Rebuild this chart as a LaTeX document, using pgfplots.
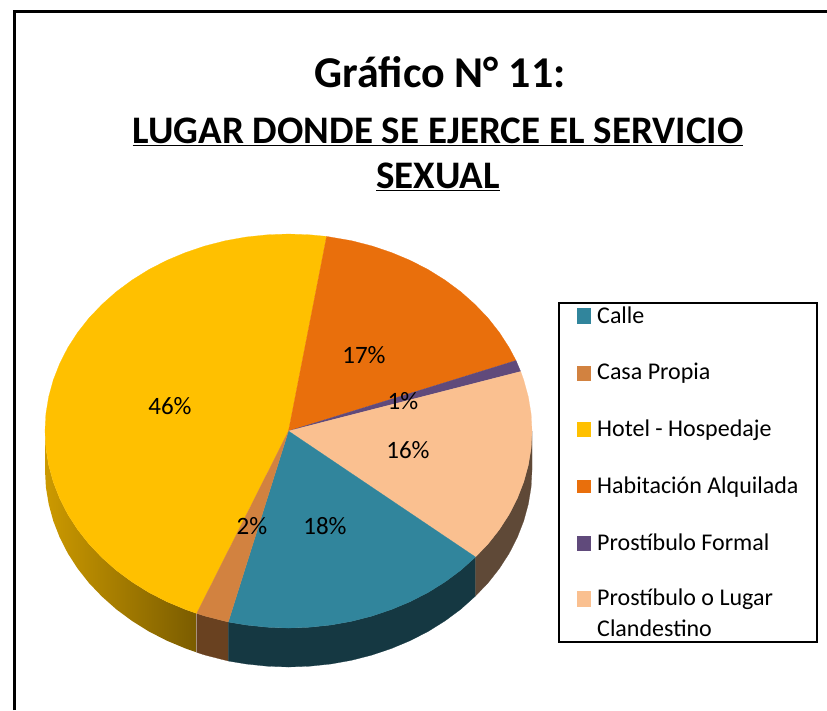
\documentclass[border=0pt]{standalone}
\usepackage{pgfplots}
\pgfplotsset{compat=1.18}
\usepackage{fontspec}
\setmainfont{Carlito}
\definecolor{calle}{HTML}{31859C}
\definecolor{casa}{HTML}{D28240}
\definecolor{hotel}{HTML}{FFC000}
\definecolor{habit}{HTML}{E96F0C}
\definecolor{formal}{HTML}{604A7B}
\definecolor{peach}{HTML}{FAC090}
\newcommand{\fs}[1]{\fontsize{#1}{#1}\selectfont}
\begin{document}
\begin{tikzpicture}
\begin{axis}[
  width=827pt,height=710pt,scale only axis,hide axis,
  xmin=0,xmax=827,ymin=0,ymax=710,y dir=reverse,
  no markers,clip=false,
  every axis plot/.append style={line width=0.2pt}
]
\path[use as bounding box] (axis cs:0,0) rectangle (axis cs:827,710);
% frame
\addplot[black,line width=3pt] coordinates {(14,710) (14,11) (827,11)};
% sides
\addplot[draw=none,left color=hotel!80!black,right color=hotel!48!black] coordinates {
(45,431)(45.9,448.2)(48.7,465.2)(53.3,482)(59.7,498.4)(67.8,514.3)(77.6,529.5)(89,544)(102,557.6)(116.3,570.3)(132,581.9)(148.8,592.4)(166.7,601.6)(185.6,609.5)(196.7,613.4)
(196.7,652.4)(185.6,648.5)(166.7,640.6)(148.8,631.4)(132,620.9)(116.3,609.3)(102,596.6)(89,583)(77.6,568.5)(67.8,553.3)(59.7,537.4)(53.3,521)(48.7,504.2)(45.9,487.2)(45,470)} --cycle;
\addplot[fill=casa!50!black,draw=casa!50!black] coordinates {
(196.7,613.4)(205.2,616.1)(225.5,621.3)(228.3,622)(228.3,661)(225.5,660.3)(205.2,655.1)(196.7,652.4)} --cycle;
\addplot[fill=calle!42!black,draw=calle!42!black] coordinates {
(228.3,622)(246.2,625)(267.3,627.2)(288.5,628)(309.7,627.2)(330.8,625)(351.5,621.3)(371.8,616.1)(391.4,609.5)(410.3,601.6)(428.2,592.4)(445,581.9)(460.7,570.3)(475.5,557)
(475.5,596)(460.7,609.3)(445,620.9)(428.2,631.4)(410.3,640.6)(391.4,648.5)(371.8,655.1)(351.5,660.3)(330.8,664)(309.7,666.2)(288.5,667)(267.3,666.2)(246.2,664)(228.3,661)} --cycle;
\addplot[fill=peach!38!black,draw=peach!38!black] coordinates {
(475.5,557)(488,544)(499.4,529.5)(509.2,514.3)(517.3,498.4)(523.7,482)(528.3,465.2)(531.1,448.2)(532,431)
(532,470)(531.1,487.2)(528.3,504.2)(523.7,521)(517.3,537.4)(509.2,553.3)(499.4,568.5)(488,583)(475.5,596)} --cycle;
% top faces
\addplot[fill=hotel,draw=hotel] coordinates {
(288.5,431)(326.6,236.4)(309.7,234.8)(288.5,234)(267.3,234.8)(246.2,237)(225.5,240.7)(205.2,245.9)(185.6,252.5)(166.7,260.4)(148.8,269.6)(132,280.1)(116.3,291.7)(102,304.4)(89,318)(77.6,332.5)(67.8,347.7)(59.7,363.6)(53.3,380)(48.7,396.8)(45.9,413.8)(45,431)(45.9,448.2)(48.7,465.2)(53.3,482)(59.7,498.4)(67.8,514.3)(77.6,529.5)(89,544)(102,557.6)(116.3,570.3)(132,581.9)(148.8,592.4)(166.7,601.6)(185.6,609.5)(196.7,613.4)} --cycle;
\addplot[fill=habit,draw=habit] coordinates {
(288.5,431)(516,360.5)(509.2,347.7)(499.4,332.5)(488,318)(475,304.4)(460.7,291.7)(445,280.1)(428.2,269.6)(410.3,260.4)(391.4,252.5)(371.8,245.9)(351.5,240.7)(326.6,236.4)} --cycle;
\addplot[fill=formal,draw=formal] coordinates {
(288.5,431)(520.7,371.5)(516,360.5)} --cycle;
\addplot[fill=peach,draw=peach] coordinates {
(288.5,431)(475.5,557)(488,544)(499.4,529.5)(509.2,514.3)(517.3,498.4)(523.7,482)(528.3,465.2)(531.1,448.2)(532,431)(531.1,413.8)(528.3,396.8)(523.7,380)(520.7,371.5)} --cycle;
\addplot[fill=calle,draw=calle] coordinates {
(288.5,431)(228.3,622)(246.2,625)(267.3,627.2)(288.5,628)(309.7,627.2)(330.8,625)(351.5,621.3)(371.8,616.1)(391.4,609.5)(410.3,601.6)(428.2,592.4)(445,581.9)(460.7,570.3)(475.5,557)} --cycle;
\addplot[fill=casa,draw=casa] coordinates {
(288.5,431)(196.7,613.4)(205.2,616.1)(225.5,621.3)(228.3,622)} --cycle;
% legend box
\addplot[fill=white,draw=black,line width=1.6pt] coordinates {(559,303)(817,303)(817,642)(559,642)} --cycle;
\addplot[fill=calle,draw=calle] coordinates {(577,308)(590,308)(590,323)(577,323)} --cycle;
\addplot[fill=casa,draw=casa] coordinates {(577,366)(590,366)(590,380)(577,380)} --cycle;
\addplot[fill=hotel,draw=hotel] coordinates {(577,422)(590,422)(590,436)(577,436)} --cycle;
\addplot[fill=habit,draw=habit] coordinates {(577,480)(590,480)(590,492)(577,492)} --cycle;
\addplot[fill=formal,draw=formal] coordinates {(577,536)(590,536)(590,550)(577,550)} --cycle;
\addplot[fill=peach,draw=peach] coordinates {(577,591)(590,591)(590,606)(577,606)} --cycle;
% legend text
\begin{scope}[every node/.style={anchor=base west,inner sep=0pt,font=\fs{24}}]
\node at (axis cs:597,323) {Calle};
\node at (axis cs:597,379.5) {Casa Propia};
\node at (axis cs:597,436.5) {Hotel - Hospedaje};
\node at (axis cs:597,493) {Habitación Alquilada};
\node at (axis cs:597,550) {Prostíbulo Formal};
\node at (axis cs:597,605.5) {Prostíbulo o Lugar};
\node at (axis cs:597,636.5) {Clandestino};
\end{scope}
% percentages
\begin{scope}[every node/.style={inner sep=0pt,font=\fs{25}}]
\node at (axis cs:170,406) {46\%};
\node at (axis cs:364,355) {17\%};
\node at (axis cs:403,401) {1\%};
\node at (axis cs:408,450) {16\%};
\node at (axis cs:325,526) {18\%};
\node at (axis cs:252,526) {2\%};
\end{scope}
% titles
\node[inner sep=0pt,font=\bfseries\fs{44}] at (axis cs:440,72) {Gráfico N° 11:};
\node[inner sep=0pt,font=\bfseries\fs{39}] at (axis cs:438,132) {\underline{LUGAR DONDE SE EJERCE EL SERVICIO}};
\node[inner sep=0pt,font=\bfseries\fs{39}] at (axis cs:438,177) {\underline{SEXUAL}};
\end{axis}
\end{tikzpicture}
\end{document}
